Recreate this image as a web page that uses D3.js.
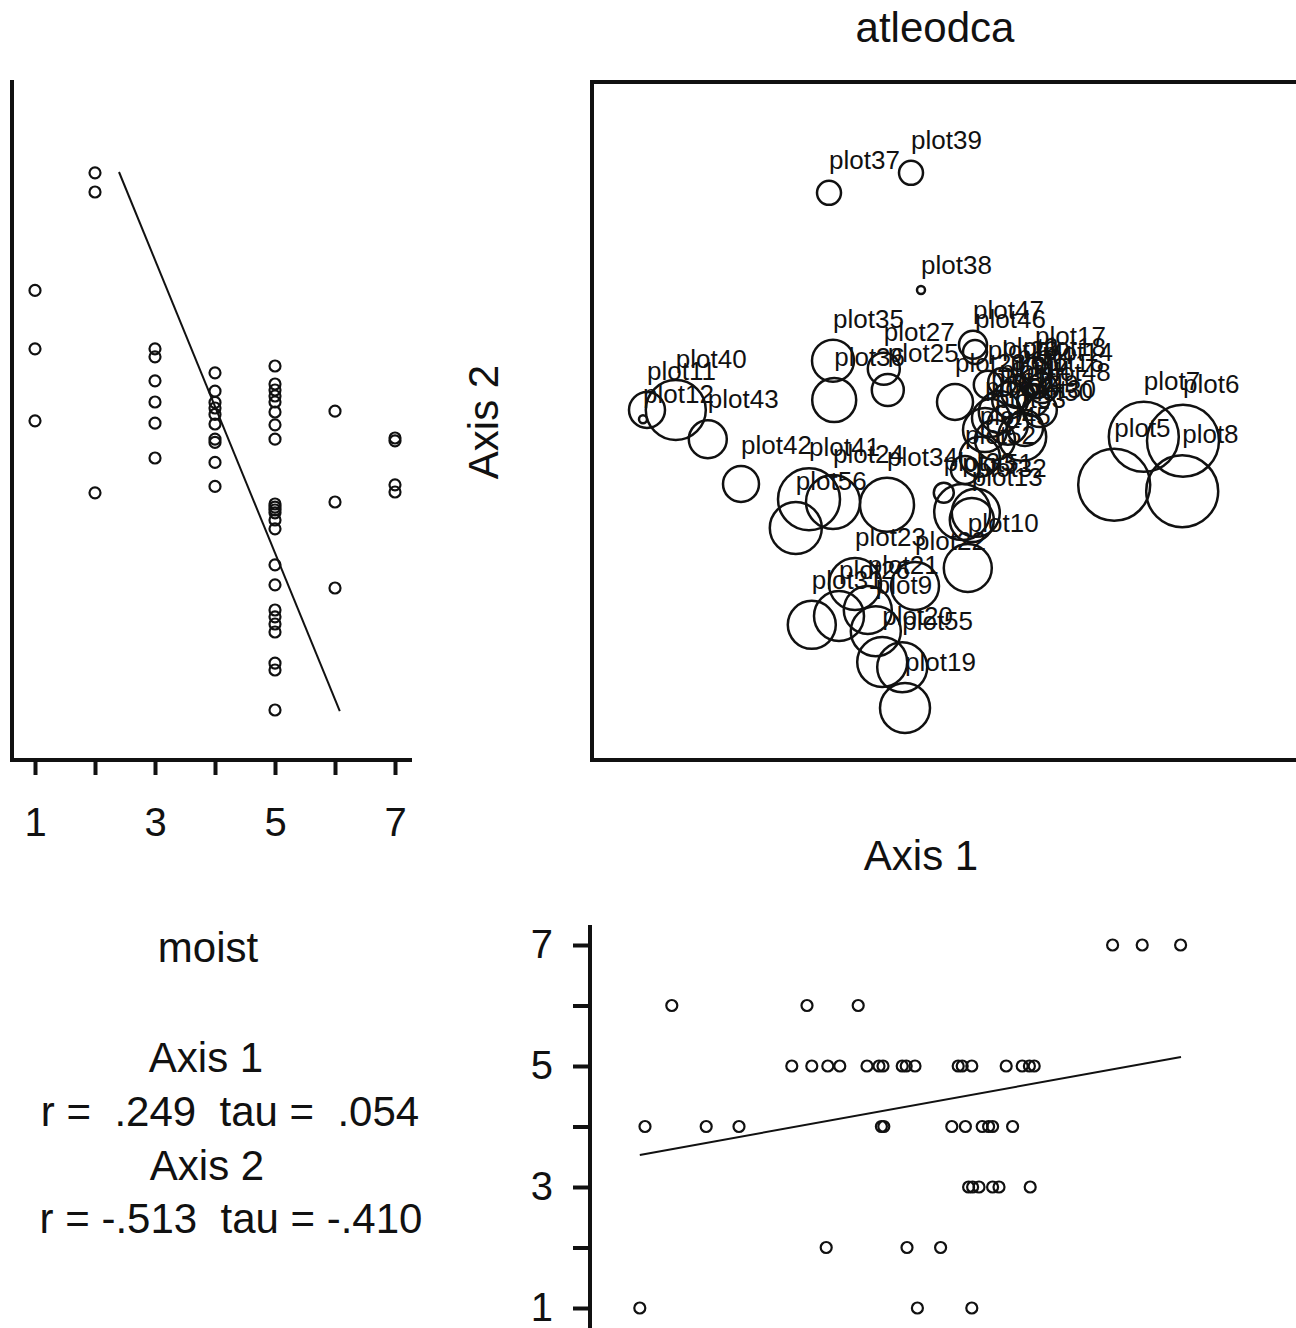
<!DOCTYPE html>
<html>
<head>
<meta charset="utf-8">
<script src="https://cdn.jsdelivr.net/npm/d3@7"></script>
<style>
  body { margin: 0; background: #fff; }
  text { font-family: "Liberation Sans", Arial, sans-serif; fill: #111; }
</style>
</head>
<body>
<svg id="chart" width="1296" height="1328"></svg>
<script>
(function(){
    // main ordination: plot scores and atleodca abundance
    var plotNames = ['plot39','plot37','plot38','plot35','plot36','plot27','plot25','plot28','plot47','plot46',
        'plot17','plot18','plot29','plot16','plot30','plot45','plot2','plot4','plot14','plot15',
        'plot44','plot49','plot50','plot52','plot53','plot12','plot11','plot40','plot43','plot42',
        'plot41','plot24','plot56','plot34','plot33','plot51','plot32','plot13','plot10','plot22',
        'plot23','plot31','plot26','plot21','plot9','plot20','plot55','plot19','plot7','plot6',
        'plot5','plot8','plot1','plot48','plot54'];
    var axis1 = [40,29.75,41.25,30.25,30.4,36.6,37.1,45.5,47.75,48,
        55.5,55.5,49.6,55.25,54.25,48.6,51.4,53.25,56.4,50,
        51.1,52.1,53.9,46.75,50.5,6.5,7,10.6,14.6,18.75,
        27.25,30.25,25.6,37,44.1,46.4,48.1,47.6,47.1,40.5,
        33,27.6,31,34.6,35.6,36.4,38.9,39.25,69.1,74,
        65.4,73.9,52.4,56.1,49.25];
    var axis2 = [73.4,70.9,58.75,49.9,45,48.9,46.25,44.75,51.9,51,
        48.6,47.1,46.9,45,41.5,37.9,47.25,46,46.5,42.75,
        43.5,41.9,40.4,36.25,40,42.6,43.75,43.75,40.1,34.5,
        32.6,32.25,29,31.9,33.4,31,30.9,30,24,21.75,
        22,16.9,18,18.75,16.1,12.25,11.6,6.5,40.4,39.9,
        34.4,33.6,45,43.75,41.25];
    var cover = [3,3,1,5.25,5.5,4,4,4.5,3.5,3,
        3.5,3.75,3.5,4,4.5,5,3.5,4,3.75,4.75,
        5.25,5,6,3.5,5,1,4.5,7.5,4.75,4.5,
        7.75,6.75,6.5,6.75,2.5,7,6,5.5,6,6,
        6.5,6,6.25,6,6.25,6.25,6.25,6.25,8.75,9,
        9,9,4.5,4.25,5.5];

    // moist vs Axis 2 (top left)
    var leftMoist = [1,1,1, 2,2,2, 3,3,3,3,3,3, 4,4,4,4,4,4,4,4,4,4,
        5,5,5,5,5,5,5,5,5,5,5,5,5,5,5,5,5,5,5,5,5,5,5, 6,6,6, 7,7,7,7];
    var leftAxis2 = [58.7,51.4,42.4, 73.4,71,33.4, 51.4,50.4,47.4,44.75,42.1,37.75,
        48.4,46.1,44.7,44,43.2,42,40.1,39.7,37.2,34.2,
        49.25,47,46.25,45.5,44.75,43.5,41.9,40.1,32,31.6,31.25,30.9,30,28.9,24.4,21.9,18.75,17.9,17,16,12.1,11.25,6.25,
        43.6,32.25,21.5, 40.25,39.9,34.4,33.5];
    var leftFitMoist = [2.4, 6.08];
    var leftFitAxis2 = [73.5, 6.1];

    // Axis 1 vs moist (bottom right)
    var lowAxis1 = [65.2,68.9,73.7, 10.1,27,33.4,
        25.1,27.6,29.6,31.1,34.5,36,36.5,38.9,39.4,40.5,45.9,46.4,47.6,51.9,53.9,54.8,55.4,
        6.75,14.4,18.5,36.3,36.6,45.1,46.8,48.9,49.7,50.2,52.7,
        47.2,47.7,48.5,50.2,51,54.9, 29.4,39.5,43.7, 6.1,40.8,47.6];
    var lowMoist = [7,7,7, 6,6,6,
        5,5,5,5,5,5,5,5,5,5,5,5,5,5,5,5,5,
        4,4,4,4,4,4,4,4,4,4,4,
        3,3,3,3,3,3, 2,2,2, 1,1,1];
    var lowFitAxis1 = [6.1, 73.75];
    var lowFitMoist = [3.53, 5.15];

    var moistTicks = [1,2,3,4,5,6,7];
    var stats = [
        {t:'moist', x:208, y:962},
        {t:'Axis 1', x:206, y:1072},
        {t:'r =  .249  tau =  .054', x:230, y:1126},
        {t:'Axis 2', x:207, y:1180},
        {t:'r = -.513  tau = -.410', x:231, y:1233}
    ];

    var ink = '#111';
    var svg = d3.select('#chart');

    var x1 = d3.scaleLinear().domain([0, 88]).range([591, 1295]);
    var y2 = d3.scaleLinear().domain([0, 85]).range([760, 80]);
    var xm = d3.scaleLinear().domain([1, 7]).range([35, 395]);
    var ym = d3.scaleLinear().domain([1, 7]).range([1308, 945]);
    var rs = d3.scaleLinear().domain([0, 9]).range([0, 36]);

    // MAIN PANEL-----------------
    svg.append('rect')
        .attr('x', 592).attr('y', 82)
        .attr('width', 730).attr('height', 678)
        .style('fill', 'none').style('stroke', ink).style('stroke-width', 4);

    var plots = plotNames.map(function(n, i){
        return {name: n, a1: axis1[i], a2: axis2[i], c: cover[i]};
    });

    svg.append('g').selectAll('circle')
        .data(plots).enter().append('circle')
        .attr('cx', function(d){ return x1(d.a1) })
        .attr('cy', function(d){ return y2(d.a2) })
        .attr('r', function(d){ return rs(d.c) })
        .style('fill', 'none').style('stroke', ink).style('stroke-width', 2.5);

    // labels sit just above each circle, starting at its centre
    svg.append('g').selectAll('text')
        .data(plots).enter().append('text')
        .attr('x', function(d){ return x1(d.a1) })
        .attr('y', function(d){ return y2(d.a2) - rs(d.c) - 12 })
        .style('font-size', '26px')
        .text(function(d){ return d.name });

    svg.append('text').attr('x', 935).attr('y', 42)
        .attr('text-anchor', 'middle').style('font-size', '42px').text('atleodca');
    svg.append('text').attr('x', 921).attr('y', 870)
        .attr('text-anchor', 'middle').style('font-size', '42px').text('Axis 1');
    svg.append('text').attr('transform', 'translate(498,422) rotate(-90)')
        .attr('text-anchor', 'middle').style('font-size', '42px').text('Axis 2');

    // TOP LEFT: moist vs Axis 2-----------------
    svg.append('path')
        .attr('d', 'M12,80 L12,760 L412,760')
        .style('fill', 'none').style('stroke', ink).style('stroke-width', 4);

    var axB = svg.append('g').attr('transform', 'translate(0,760)')
        .call(d3.axisBottom(xm).tickValues(moistTicks).tickSize(15).tickPadding(33)
            .tickFormat(function(d){ return d % 2 ? d : '' }));
    axB.select('.domain').remove();
    axB.selectAll('line').style('stroke', ink).style('stroke-width', 4);
    axB.selectAll('text').style('font-size', '40px').style('font-family', '"Liberation Sans", Arial, sans-serif').style('fill', ink);

    svg.append('g').selectAll('circle')
        .data(leftMoist).enter().append('circle')
        .attr('cx', function(d){ return xm(d) })
        .attr('cy', function(d, i){ return y2(leftAxis2[i]) })
        .attr('r', 5.5)
        .style('fill', 'none').style('stroke', ink).style('stroke-width', 2.2);

    svg.append('line')
        .attr('x1', xm(leftFitMoist[0])).attr('y1', y2(leftFitAxis2[0]))
        .attr('x2', xm(leftFitMoist[1])).attr('y2', y2(leftFitAxis2[1]))
        .style('stroke', ink).style('stroke-width', 2);

    // BOTTOM RIGHT: Axis 1 vs moist-----------------
    svg.append('line')
        .attr('x1', 590).attr('y1', 925).attr('x2', 590).attr('y2', 1330)
        .style('stroke', ink).style('stroke-width', 4);

    var axL = svg.append('g').attr('transform', 'translate(590,0)')
        .call(d3.axisLeft(ym).tickValues(moistTicks).tickSize(17).tickPadding(20)
            .tickFormat(function(d){ return d % 2 ? d : '' }));
    axL.select('.domain').remove();
    axL.selectAll('line').style('stroke', ink).style('stroke-width', 4);
    axL.selectAll('text').style('font-size', '40px').style('font-family', '"Liberation Sans", Arial, sans-serif').style('fill', ink);

    svg.append('g').selectAll('circle')
        .data(lowAxis1).enter().append('circle')
        .attr('cx', function(d){ return x1(d) })
        .attr('cy', function(d, i){ return ym(lowMoist[i]) })
        .attr('r', 5.5)
        .style('fill', 'none').style('stroke', ink).style('stroke-width', 2.2);

    svg.append('line')
        .attr('x1', x1(lowFitAxis1[0])).attr('y1', ym(lowFitMoist[0]))
        .attr('x2', x1(lowFitAxis1[1])).attr('y2', ym(lowFitMoist[1]))
        .style('stroke', ink).style('stroke-width', 2);

    // STATS TEXT-----------------
    svg.append('g').selectAll('text')
        .data(stats).enter().append('text')
        .attr('x', function(d){ return d.x })
        .attr('y', function(d){ return d.y })
        .attr('text-anchor', 'middle')
        .style('font-size', '42px')
        .style('white-space', 'pre')
        .text(function(d){ return d.t });
})();
</script>
</body>
</html>
